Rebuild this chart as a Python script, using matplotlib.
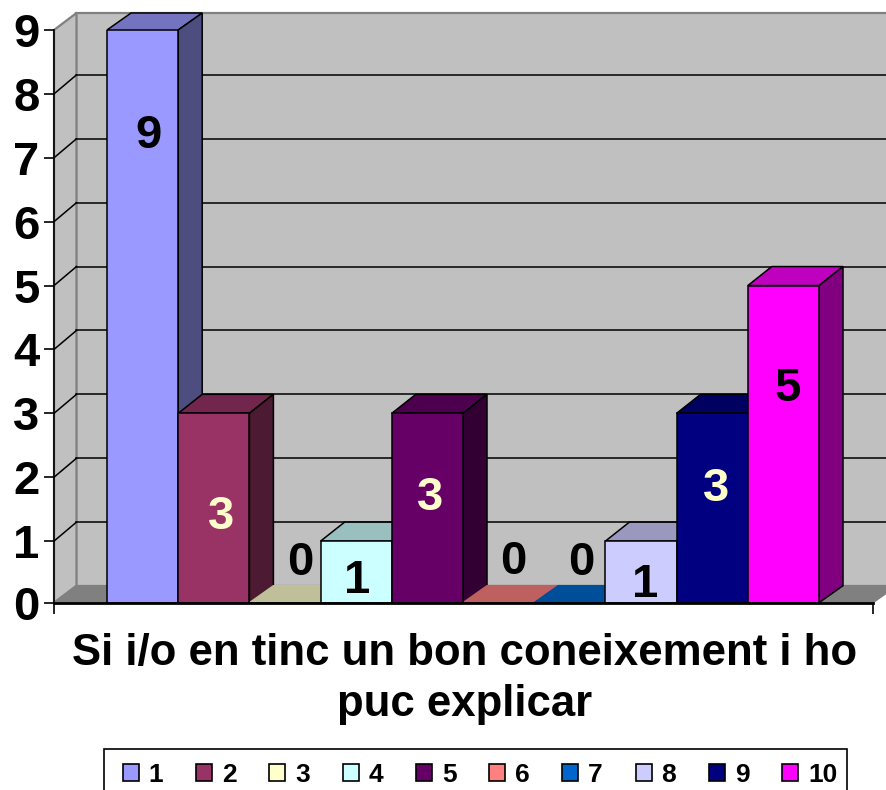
#3d looking column chart, drawn by hand on a flat axes
import matplotlib
matplotlib.use('Agg')
import matplotlib.pyplot as plt
from matplotlib.patches import Polygon, Patch, Rectangle

categories = ['1', '2', '3', '4', '5', '6', '7', '8', '9', '10']
values = [9, 3, 0, 1, 3, 0, 0, 1, 3, 5]
colors = ['#9999FF', '#993366', '#FFFFCC', '#CCFFFF', '#660066',
          '#FF8080', '#0066CC', '#CCCCFF', '#000080', '#FF00FF']
label_colors = ['black', '#FFFFCC', 'black', 'black', '#FFFFCC',
                'black', 'black', 'black', '#FFFFCC', 'black']
y_ticks = [0, 1, 2, 3, 4, 5, 6, 7, 8, 9]
title = 'Si i/o en tinc un bon coneixement i ho\npuc explicar'

W, H = 887, 790
# pixel frame of the front plane
LEFT, RIGHT, BOTTOM, TOP = 54, 873, 602.7, 30
BAR_W = 71.2
FIRST_BAR = 107
UNIT = 63.9
# the old chart squashes the last bit of the scale, floor sits a bit above zero
FLOOR = (605 - BOTTOM) / UNIT
DX = 24 / BAR_W
WALL_DX = 22.5 / BAR_W
DY = 19 / UNIT
WALL_TOP = 9 + 17 / UNIT


def shade(col, f):
    r, g, b = matplotlib.colors.to_rgb(col)
    return (r * f, g * f, b * f)


plt.rcParams['font.family'] = ['Liberation Sans', 'DejaVu Sans']
plt.rcParams['font.weight'] = 'bold'

fig = plt.figure(figsize=(W / 100, H / 100), dpi=100)
ax = fig.add_axes([LEFT / W, 1 - BOTTOM / H, (RIGHT - LEFT) / W, (BOTTOM - TOP) / H])
xmin = -(FIRST_BAR - LEFT) / BAR_W
xmax = (RIGHT - FIRST_BAR) / BAR_W
ax.set_xlim(xmin, xmax)
ax.set_ylim(FLOOR, 9)
ax.patch.set_visible(False)


def poly(pts, fc, ec='black', lw=1.1, z=2):
    ax.add_patch(Polygon(pts, closed=True, facecolor=fc, edgecolor=ec, linewidth=lw,
                         zorder=z, clip_on=False, joinstyle='miter'))


# walls and floor
back = FLOOR + 17 / UNIT
poly([(xmin + WALL_DX, back), (xmax + DX, back), (xmax + DX, WALL_TOP), (xmin + WALL_DX, WALL_TOP)], '#C0C0C0', '#808080', 1.6, 1)
poly([(xmin, FLOOR), (xmin + WALL_DX, back), (xmin + WALL_DX, WALL_TOP), (xmin, 9)], '#C0C0C0', '#808080', 1.6, 1)
poly([(xmin, FLOOR), (xmax, FLOOR), (xmax + DX, back), (xmin + WALL_DX, back)], '#808080', '#808080', 1.0, 1)

# gridlines on the back and on the side wall
for t in y_ticks[1:-1]:
    ax.plot([xmin + WALL_DX, xmax + DX], [t + DY, t + DY], color='black', lw=1.1, zorder=1.5, clip_on=False)
    ax.plot([xmin, xmin + WALL_DX], [t, t + DY], color='black', lw=1.1, zorder=1.5, clip_on=False)

# columns
for i, v in enumerate(values):
    x = i
    z = 2 + i * 0.1
    base = max(v, FLOOR)
    top = min(base + DY, WALL_TOP) if v > 0 else back
    poly([(x, base), (x + 1, base), (x + 1 + DX, top), (x + DX, top)], shade(colors[i], 0.75),
         'black' if v > 0 else shade(colors[i], 0.75), 1.1, z)
    if v > 0:
        poly([(x + 1, FLOOR), (x + 1 + DX, back), (x + 1 + DX, top), (x + 1, base)], shade(colors[i], 0.5), 'black', 1.1, z)
bar_tops = [max(v, FLOOR) - FLOOR for v in values]
ax.bar(range(len(values)), bar_tops, bottom=FLOOR, width=1, align='edge', color=colors, edgecolor='black',
       linewidth=1.1, zorder=3.5)

# data labels sit where the original chart left them
label_x = [0.58, 1.6, 2.71, 3.52, 4.54, 5.71, 6.66, 7.56, 8.56, 9.56]
label_y = [7.34, 1.37, 0.66, 0.37, 1.68, 0.68, 0.66, 0.32, 1.82, 3.38]
for i, v in enumerate(values):
    ax.text(label_x[i], label_y[i], str(v), color=label_colors[i], fontsize=34, fontweight='bold',
            ha='center', va='center', zorder=5)

# axes lines
for s in ['top', 'right']:
    ax.spines[s].set_visible(False)
ax.spines['left'].set_linewidth(1.2)
ax.spines['bottom'].set_linewidth(2.0)
ax.spines['left'].set_zorder(6)
ax.spines['bottom'].set_zorder(6)
ax.set_xticks([xmin, xmax])
ax.set_xticklabels([])
ax.tick_params(axis='x', length=8, width=1.2, direction='out')
ax.set_yticks([max(t, FLOOR) for t in y_ticks])
ax.set_yticklabels([str(t) for t in y_ticks], fontsize=34, fontweight='bold')
ax.tick_params(axis='y', length=7.5, width=1.2, pad=3)

fig.text(465 / W, 1 - 679 / H, title, fontsize=31.5, fontweight='bold', ha='center', va='center',
         linespacing=1.34)

# frame runs off the bottom of the picture so it is separate from the legend
fig.add_artist(Rectangle((104 / W, 1 - 795 / H), 743 / W, 46 / H, transform=fig.transFigure,
                         facecolor='white', edgecolor='black', linewidth=1.2))
handles = [Patch(facecolor=c, edgecolor='black', linewidth=1.2, label=n)
           for c, n in zip(colors, categories)]
leg = fig.legend(handles=handles, ncols=10, loc='upper left', bbox_to_anchor=(123 / W, 1 - 763 / H),
                 borderaxespad=0, borderpad=0, fontsize=19, frameon=False, handlelength=0.6,
                 handleheight=0.6, handletextpad=0.38, columnspacing=1.24)
leg.set_zorder(5)

fig.savefig('out.png', dpi=100)
